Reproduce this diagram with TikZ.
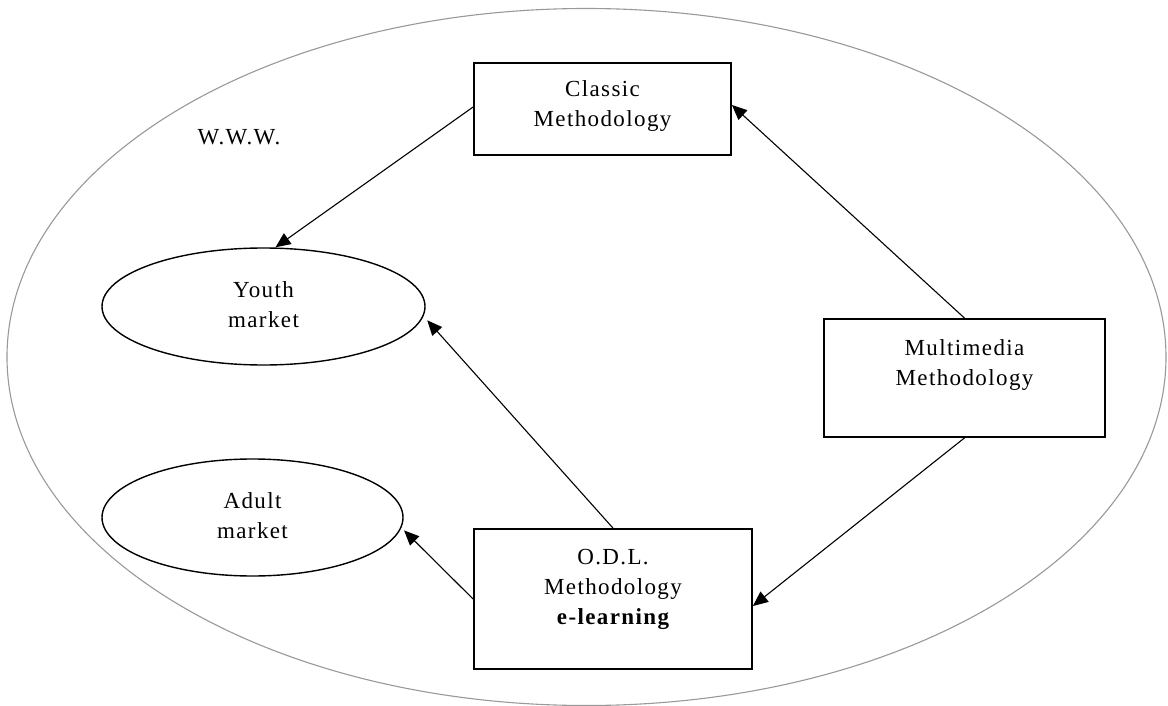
\documentclass[tikz,border=0pt]{standalone}
\usepackage{fontspec}
\setmainfont{Liberation Serif}[LetterSpace=6]
\usetikzlibrary{shapes.geometric,arrows.meta}
\newcommand{\mylines}[2][c]{\begin{tabular}[#1]{@{}c@{}}#2\end{tabular}}
\begin{document}
\begin{tikzpicture}[x=1pt,y=-1pt,
  every node/.style={font=\fontsize{23}{30}\selectfont},
  boxnode/.style={draw=black,line width=1.8pt,rectangle,inner sep=0pt},
  ellnode/.style={draw=black,line width=1.4pt,ellipse,inner sep=0pt},
  txt/.style={inner sep=0pt,anchor=base},
  conn/.style={draw=black,line width=1.1pt,-{Triangle[length=15pt,width=13pt]}}]
\useasboundingbox (0,0) rectangle (1168,706);
\fill[white] (0,0) rectangle (1168,706);
% outer W.W.W. ellipse
\draw[draw=black!40,line width=1.1pt] (586.5,357) ellipse [x radius=579.5, y radius=348.5];
\node[txt] (www) at (239,145) {W.W.W.};
% boxes
\node[boxnode,minimum width=257,minimum height=92] (classic) at (602.5,109) {};
\node[txt] (classictxt) at (602.5,97) {\mylines[t]{Classic\\Methodology}};
\node[boxnode,minimum width=281,minimum height=118] (mm) at (964.5,378) {};
\node[txt] (mmtxt) at (964.5,355) {\mylines[t]{Multimedia\\Methodology}};
\node[boxnode,minimum width=278,minimum height=140] (odl) at (613,599) {};
\node[txt] (odltxt) at (613,564) {\mylines[t]{O.D.L.\\Methodology\\\bfseries e-learning}};
% ellipses
\node[ellnode,minimum width=323,minimum height=117] (youth) at (263.5,306.5) {\mylines{Youth\\market}};
\node[ellnode,minimum width=301,minimum height=117] (adult) at (252.5,517.5) {\mylines{Adult\\market}};
% connectors
\draw[conn] ([yshift=2]classic.west) -- ([xshift=12]youth.north);
\draw[conn] (mm.north) -- ([yshift=4]classic.east);
\draw[conn] (mm.south) -- ([yshift=-7]odl.east);
\draw[conn] (odl.north) -- ([xshift=6]youth.-5);
\draw[conn] (odl.west) -- ([xshift=4]adult.-5);
\end{tikzpicture}
\end{document}
